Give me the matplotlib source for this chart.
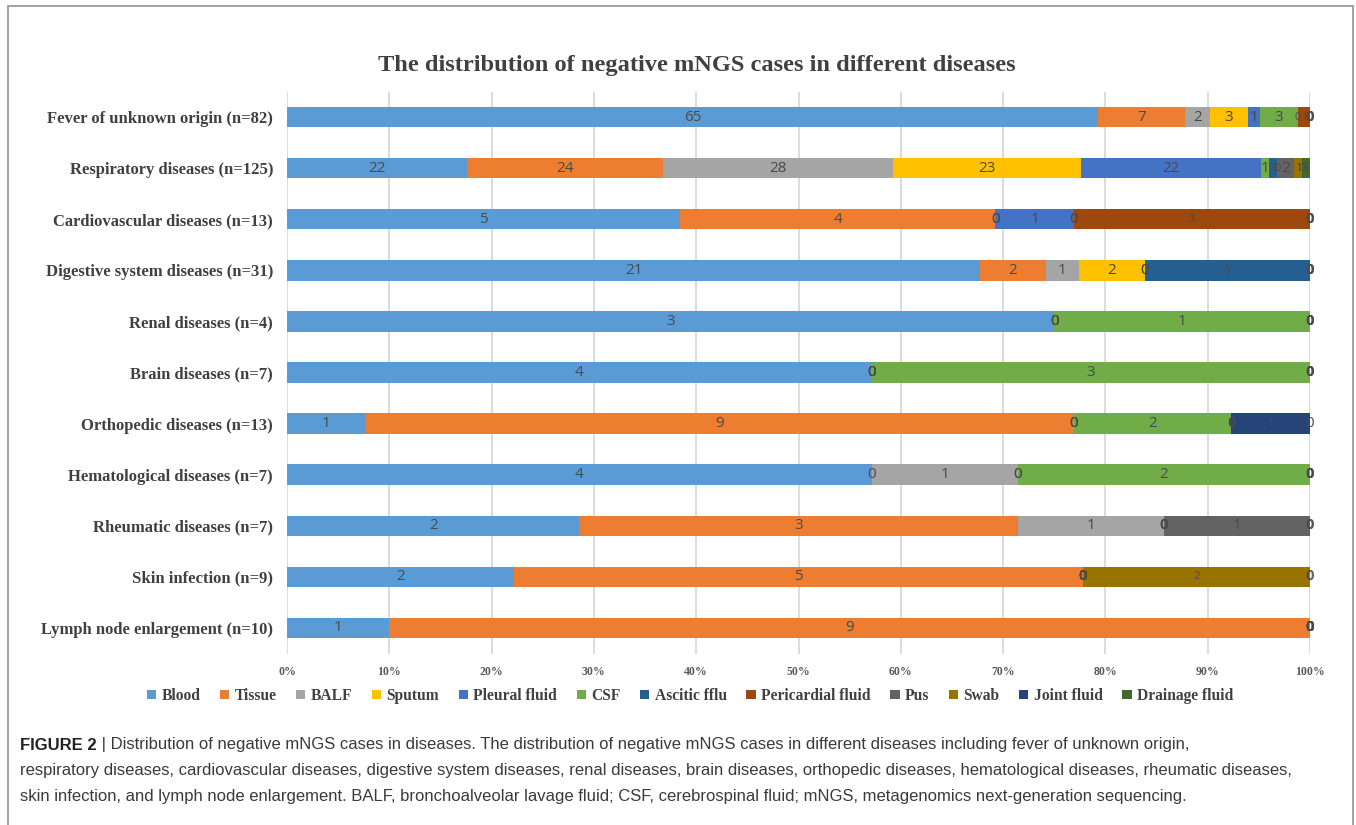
import numpy as np
import matplotlib
matplotlib.use("Agg")
import matplotlib.pyplot as plt
from matplotlib.patches import Patch, Rectangle

# ---- data -------------------------------------------------------------
categories = [
    "Fever of unknown origin (n=82)",
    "Respiratory diseases (n=125)",
    "Cardiovascular diseases (n=13)",
    "Digestive system diseases (n=31)",
    "Renal diseases (n=4)",
    "Brain diseases (n=7)",
    "Orthopedic diseases (n=13)",
    "Hematological diseases (n=7)",
    "Rheumatic diseases (n=7)",
    "Skin infection (n=9)",
    "Lymph node enlargement (n=10)",
]

series_names = ["Blood", "Tissue", "BALF", "Sputum", "Pleural fluid", "CSF",
                "Ascitic fflu", "Pericardial fluid", "Pus", "Swab",
                "Joint fluid", "Drainage fluid"]

blood       = [65, 22, 5, 21, 3, 4, 1, 4, 2, 2, 1]
tissue      = [7, 24, 4, 2, 0, 0, 9, 0, 3, 5, 9]
balf        = [2, 28, 0, 1, 0, 0, 0, 1, 1, 0, 0]
sputum      = [3, 23, 0, 2, 0, 0, 0, 0, 0, 0, 0]
pleural     = [1, 22, 1, 0, 0, 0, 0, 0, 0, 0, 0]
csf         = [3, 1, 0, 0, 1, 3, 2, 2, 0, 0, 0]
ascitic     = [0, 1, 0, 5, 0, 0, 0, 0, 0, 0, 0]
pericardial = [1, 0, 3, 0, 0, 0, 0, 0, 0, 0, 0]
pus         = [0, 2, 0, 0, 0, 0, 0, 0, 1, 0, 0]
swab        = [0, 1, 0, 0, 0, 0, 0, 0, 0, 2, 0]
joint       = [0, 0, 0, 0, 0, 0, 1, 0, 0, 0, 0]
drainage    = [0, 1, 0, 0, 0, 0, 0, 0, 0, 0, 0]

x_ticks = [0, 10, 20, 30, 40, 50, 60, 70, 80, 90, 100]
x_tick_labels = [f"{t}%" for t in x_ticks]

caption_head = "FIGURE 2"
caption_lines = [
    " | Distribution of negative mNGS cases in diseases. The distribution of "
    "negative mNGS cases in different diseases including fever of unknown origin,",
    "respiratory diseases, cardiovascular diseases, digestive system diseases, "
    "renal diseases, brain diseases, orthopedic diseases, hematological diseases, "
    "rheumatic diseases,",
    "skin infection, and lymph node enlargement. BALF, bronchoalveolar lavage "
    "fluid; CSF, cerebrospinal fluid; mNGS, metagenomics next-generation sequencing.",
]

# ---- styling ----------------------------------------------------------
colors = ["#5B9BD5", "#ED7D31", "#A5A5A5", "#FFC000", "#4472C4", "#70AD47",
          "#255E91", "#9E480E", "#636363", "#997300", "#264478", "#43682B"]
# series whose value labels are set in a smaller type
small_label_series = {"Ascitic fflu", "Pericardial fluid", "Swab", "Joint fluid"}

serif = ["Liberation Serif", "DejaVu Serif"]
label_font = ["Open Sans", "DejaVu Sans"]
caption_font = ["Liberation Sans", "DejaVu Sans"]

W, H = 1356, 825
fig = plt.figure(figsize=(W / 100, H / 100), dpi=100)
fig.patch.set_facecolor("white")

# outer frame
fig.add_artist(Rectangle((8 / W, -0.05), (1353 - 8) / W, 1.05 - 6 / H,
                         transform=fig.transFigure, fill=False,
                         edgecolor="#9a9a9a", linewidth=1.3))

ax = fig.add_axes([287 / W, 1 - 653.5 / H, (1310 - 287) / W, (653.5 - 91.5) / H])

data = np.array([blood, tissue, balf, sputum, pleural, csf, ascitic,
                 pericardial, pus, swab, joint, drainage], dtype=float)
totals = data.sum(axis=0)
pct = data / totals * 100.0
ypos = np.arange(len(categories))

left = np.zeros(len(categories))
for name, color, counts, share in zip(series_names, colors, data, pct):
    ax.barh(ypos, share, left=left, height=0.4, color=color, label=name,
            zorder=3)
    small = name in small_label_series
    for yi, (c, s, l) in enumerate(zip(counts, share, left)):
        ax.text(l + s / 2, yi, f"{int(c)}", ha="center", va="center",
                fontsize=8 if small else 11, color="#4a4a4a",
                family=label_font, zorder=4)
    left = left + share

ax.set_xlim(0, 100)
ax.set_ylim(len(categories) - 0.5, -0.5)
ax.set_yticks(ypos)
ax.set_yticklabels(categories, family=serif, fontweight="bold",
                   fontsize=12, color="#404040")
ax.set_xticks(x_ticks)
ax.set_xticklabels(x_tick_labels, family=serif, fontweight="bold",
                   fontsize=8.5, color="#595959")
ax.tick_params(axis="y", length=0, pad=10)
ax.tick_params(axis="x", length=0, pad=9)
ax.xaxis.grid(True, color="#D9D9D9", linewidth=1.3, zorder=0)
ax.set_axisbelow(True)
for sp in ax.spines.values():
    sp.set_visible(False)

fig.text(697 / W, 1 - 65 / H,
         "The distribution of negative mNGS cases in different diseases",
         ha="center", va="center", family=serif, fontweight="bold",
         fontsize=17.6, color="#404040")

handles = [Patch(facecolor=c, edgecolor="none") for c in colors]
leg = fig.legend(handles, series_names, loc="center",
                 bbox_to_anchor=(690 / W, 1 - 696 / H), ncol=12,
                 frameon=False, handlelength=0.6, handleheight=0.6,
                 handletextpad=0.35, columnspacing=1.25,
                 prop={"family": serif, "weight": "bold", "size": 11.2})
for t in leg.get_texts():
    t.set_color("#404040")

# ---- caption ----------------------------------------------------------
cap_color = "#3a3a3a"
x_left = 20          # left edge of the caption block, px
x_right = 1290       # right edge of the caption block, px
y_lines = [1 - 745 / H, 1 - 771 / H, 1 - 797 / H]
renderer = fig.canvas.get_renderer()

# size the caption so that its longest line fits the text block width
base = 12.0
head = fig.text(x_left / W, y_lines[0], caption_head, ha="left", va="center",
                family=caption_font, fontweight="bold", fontsize=base,
                color="#222222")
widths = []
for i, line in enumerate(caption_lines):
    probe = fig.text(0, 0, line, family=caption_font, fontsize=base)
    w = probe.get_window_extent(renderer).width
    probe.remove()
    if i == 0:
        w += head.get_window_extent(renderer).width
    widths.append(w)
cap_size = base * (x_right - x_left) / max(widths)
head.set_fontsize(cap_size)
hb = head.get_window_extent(renderer)

fig.text(hb.x1 / W, y_lines[0], caption_lines[0], ha="left", va="center",
         family=caption_font, fontsize=cap_size, color=cap_color)
for y, line in zip(y_lines[1:], caption_lines[1:]):
    fig.text(x_left / W, y, line, ha="left", va="center", family=caption_font,
             fontsize=cap_size, color=cap_color)

fig.savefig("out.png", dpi=100)
